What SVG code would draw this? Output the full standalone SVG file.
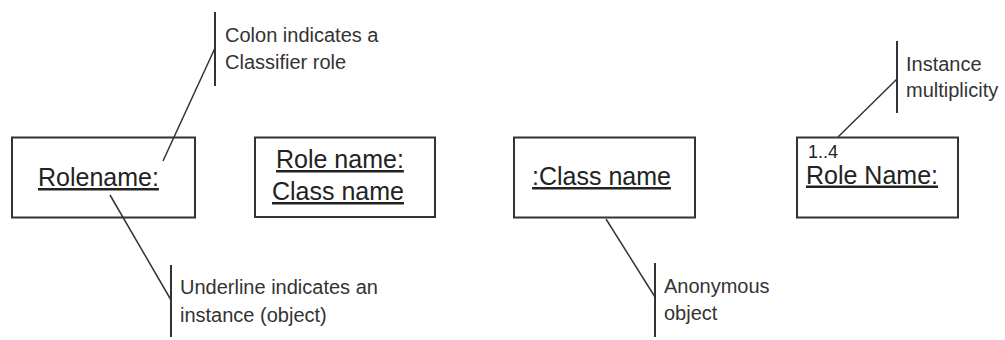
<svg xmlns="http://www.w3.org/2000/svg" width="1005" height="340" viewBox="0 0 1005 340">
  <style>
    .box { fill: #ffffff; stroke: #333333; stroke-width: 2; }
    .lbl { font-family: "Liberation Sans", Arial, sans-serif; font-size: 25px; fill: #222222; text-decoration: underline; }
    .mult { font-family: "Liberation Sans", Arial, sans-serif; font-size: 18px; fill: #222222; }
    .note { font-family: "Liberation Sans", Arial, sans-serif; font-size: 20px; fill: #333333; }
    .bar { stroke: #333333; stroke-width: 2; fill: none; }
    .conn { stroke: #333333; stroke-width: 1.5; fill: none; }
  </style>
  <rect width="1005" height="340" fill="#ffffff"/>

  <g id="node-rolename">
    <rect class="box" x="12" y="137.5" width="183" height="80"/>
    <text class="lbl" x="38" y="186">Rolename:</text>
  </g>

  <g id="node-rolename-classname">
    <rect class="box" x="255" y="137.5" width="180" height="79.5"/>
    <text class="lbl" x="276" y="168">Role name:</text>
    <text class="lbl" x="272" y="200">Class name</text>
  </g>

  <g id="node-anonymous">
    <rect class="box" x="514" y="137.5" width="181" height="80"/>
    <text class="lbl" x="532" y="185">:Class name</text>
  </g>

  <g id="node-multiplicity">
    <rect class="box" x="797" y="137.5" width="161" height="80"/>
    <text class="mult" x="808" y="157.5">1..4</text>
    <text class="lbl" x="806" y="183.5">Role Name:</text>
  </g>

  <g id="note-colon">
    <line class="bar" x1="215" y1="12" x2="215" y2="86"/>
    <text class="note" x="225" y="41.5">Colon indicates a</text>
    <text class="note" x="225" y="69">Classifier role</text>
  </g>

  <g id="note-underline">
    <line class="bar" x1="171" y1="265" x2="171" y2="337"/>
    <text class="note" x="180" y="293.5">Underline indicates an</text>
    <text class="note" x="180" y="321.5">instance (object)</text>
  </g>

  <g id="note-anonymous">
    <line class="bar" x1="655" y1="263" x2="655" y2="337"/>
    <text class="note" x="664" y="292.5">Anonymous</text>
    <text class="note" x="664" y="320">object</text>
  </g>

  <g id="note-multiplicity">
    <line class="bar" x1="897" y1="41" x2="897" y2="113"/>
    <text class="note" x="906" y="70.5">Instance</text>
    <text class="note" x="906" y="96.5">multiplicity</text>
  </g>

  <g id="connectors">
    <line class="conn" x1="215" y1="48" x2="163" y2="161"/>
    <line class="conn" x1="110" y1="195" x2="171" y2="300"/>
    <line class="conn" x1="606" y1="219" x2="655" y2="297"/>
    <line class="conn" x1="838" y1="137" x2="897" y2="79"/>
  </g>
</svg>
